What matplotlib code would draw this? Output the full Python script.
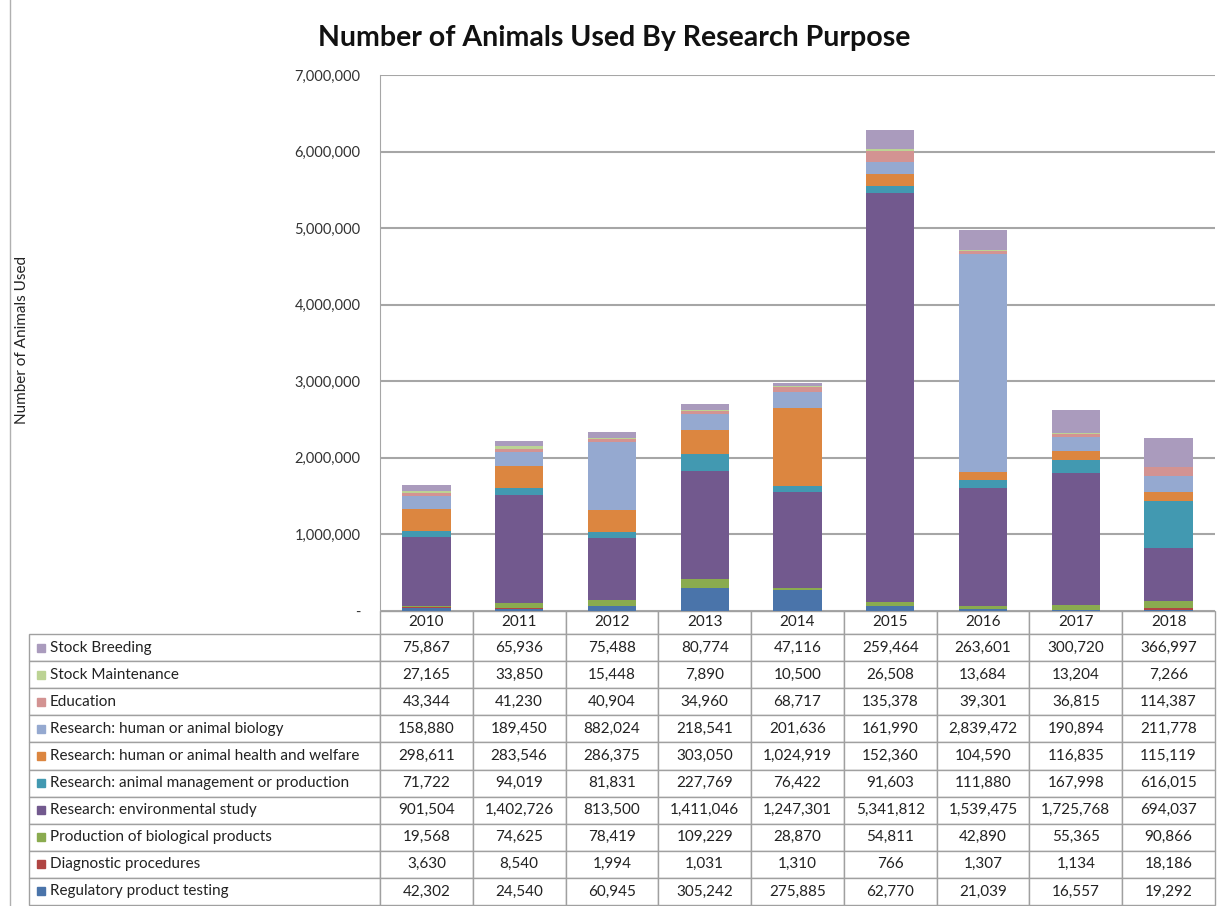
import numpy as np
import matplotlib.pyplot as plt
from matplotlib.patches import Rectangle
from matplotlib.lines import Line2D
from matplotlib.table import Table

plt.rcParams['font.family'] = ['Lato', 'DejaVu Sans']

years = ['2010', '2011', '2012', '2013', '2014', '2015', '2016', '2017', '2018']

# stacking order, bottom to top
purposes = [
    'Regulatory product testing',
    'Diagnostic procedures',
    'Production of biological products',
    'Research: environmental study',
    'Research: animal management or production',
    'Research: human or animal health and welfare',
    'Research: human or animal biology',
    'Education',
    'Stock Maintenance',
    'Stock Breeding',
]

regulatory = [42302, 24540, 60945, 305242, 275885, 62770, 21039, 16557, 19292]
diagnostic = [3630, 8540, 1994, 1031, 1310, 766, 1307, 1134, 18186]
biological = [19568, 74625, 78419, 109229, 28870, 54811, 42890, 55365, 90866]
environmental = [901504, 1402726, 813500, 1411046, 1247301, 5341812, 1539475, 1725768, 694037]
management = [71722, 94019, 81831, 227769, 76422, 91603, 111880, 167998, 616015]
health = [298611, 283546, 286375, 303050, 1024919, 152360, 104590, 116835, 115119]
biology = [158880, 189450, 882024, 218541, 201636, 161990, 2839472, 190894, 211778]
education = [43344, 41230, 40904, 34960, 68717, 135378, 39301, 36815, 114387]
maintenance = [27165, 33850, 15448, 7890, 10500, 26508, 13684, 13204, 7266]
breeding = [75867, 65936, 75488, 80774, 47116, 259464, 263601, 300720, 366997]

series = [regulatory, diagnostic, biological, environmental, management,
          health, biology, education, maintenance, breeding]

colors = ['#4a74aa', '#b04543', '#8aab4f', '#72598e', '#4299b1',
          '#dc8640', '#95a9d0', '#d39392', '#bcd394', '#aa9bbd']

fig = plt.figure(figsize=(12.17, 9.06), dpi=100)
W, H = 1217, 906
ax_l, ax_r, ax_t, ax_b = 380, 1215, 75, 611
ax = fig.add_axes([ax_l / W, 1 - ax_b / H, (ax_r - ax_l) / W, (ax_b - ax_t) / H])

x = np.arange(len(years))
bottom = np.zeros(len(years))
for vals, c in zip(series, colors):
    ax.bar(x, vals, 0.52, bottom=bottom, color=c, zorder=3)
    bottom += np.array(vals)

ax.set_xlim(-0.5, len(years) - 0.5)
ax.set_ylim(0, 7000000)
ax.set_yticks(np.arange(0, 7000001, 1000000))
ax.set_yticklabels(['-'] + [f'{v:,}' for v in range(1000000, 7000001, 1000000)],
                   fontsize=10.5, color='#333333')
ax.tick_params(axis='y', length=0, pad=14)
ax.set_xticks([])
ax.grid(axis='y', color='#a6a6a6', linewidth=1.5, zorder=0)
for s in ['top', 'right', 'bottom']:
    ax.spines[s].set_visible(False)
ax.spines['left'].set_color('#a6a6a6')

# data table under the bars: label column + one column per year,
# top row of the table = top of the stack
tab_l, tab_b = 29, 905
ax_w, ax_h = ax_r - ax_l, ax_b - ax_t
label_w = (ax_l - tab_l) / ax_w
col_w = 1.0 / len(years)
header_h, row_h = 23, 27.1
tbl = Table(ax, bbox=[-label_w, -(tab_b - ax_b) / ax_h,
                      1 + label_w, (tab_b - ax_b) / ax_h])

def style(cell):
    cell.set_edgecolor('#a0a0a0')
    cell.set_linewidth(1.0)
    cell.get_text().set_color('#222222')

corner = tbl.add_cell(0, 0, label_w, header_h, text='')
corner.visible_edges = 'open'
for j, yr in enumerate(years):
    style(tbl.add_cell(0, j + 1, col_w, header_h, text=yr, loc='center'))
for i, (name, vals) in enumerate(zip(reversed(purposes), reversed(series))):
    lab = tbl.add_cell(i + 1, 0, label_w, row_h, text=name, loc='left')
    lab.PAD = 0.06
    style(lab)
    for j, v in enumerate(vals):
        style(tbl.add_cell(i + 1, j + 1, col_w, row_h, text=f'{v:,}', loc='center'))
tbl.auto_set_font_size(False)
tbl.set_fontsize(11)
ax.add_table(tbl)

# colour keys in the row label cells
sq = 8
for i, c in enumerate(reversed(colors)):
    yc = ax_b + header_h + row_h * (i + 0.5)
    ax.add_patch(Rectangle(((37 - ax_l) / ax_w, -(yc + sq / 2 - ax_b) / ax_h),
                           sq / ax_w, sq / ax_h, transform=ax.transAxes,
                           color=c, clip_on=False, zorder=5))

fig.suptitle('Number of Animals Used By Research Purpose', x=0.505, y=0.972,
             fontsize=20.5, fontweight='bold', color='#111111')
fig.text(22 / W, 1 - 340 / H, 'Number of Animals Used', rotation=90,
         ha='center', va='center', fontsize=11, color='#222222')
fig.add_artist(Line2D([10 / W, 10 / W], [0, 1], transform=fig.transFigure,
                      color='#b0b0b0', linewidth=1))

fig.savefig('out.png', dpi=100)
